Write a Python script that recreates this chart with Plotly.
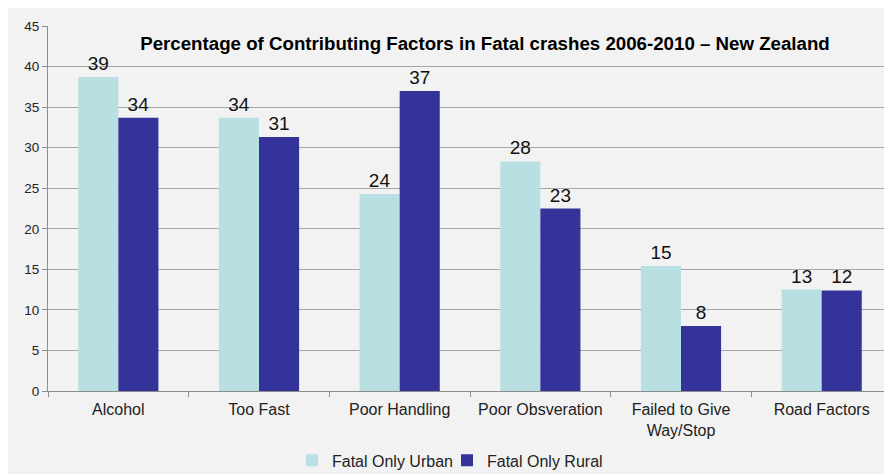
import plotly.graph_objects as go

categories = ["Alcohol", "Too Fast", "Poor Handling", "Poor Obsveration",
              "Failed to Give<br>Way/Stop", "Road Factors"]
urban_values = [38.7, 33.7, 24.3, 28.3, 15.4, 12.5]
rural_values = [33.7, 31.3, 37.0, 22.5, 8.0, 12.4]
urban_labels = ["39", "34", "24", "28", "15", "13"]
rural_labels = ["34", "31", "37", "23", "8", "12"]
y_ticks = [0, 5, 10, 15, 20, 25, 30, 35, 40, 45]

FONT = "Liberation Sans, Arial, sans-serif"

fig = go.Figure()
fig.add_trace(go.Bar(
    x=categories, y=urban_values, name="Fatal Only Urban",
    marker=dict(color="#b8e0e3", line=dict(width=0)),
    text=urban_labels, textposition="outside", cliponaxis=False,
    textfont=dict(size=19, color="#111111", family=FONT),
    legend="legend",
))
fig.add_trace(go.Bar(
    x=categories, y=rural_values, name="Fatal Only Rural",
    marker=dict(color="#333399", line=dict(width=0)),
    text=rural_labels, textposition="outside", cliponaxis=False,
    textfont=dict(size=19, color="#111111", family=FONT),
    legend="legend2",
))

W, H = 884, 466
legend_common = dict(
    orientation="h", xanchor="left", y=-0.19, yanchor="middle",
    font=dict(size=16, color="#222222", family=FONT),
    bgcolor="rgba(0,0,0,0)", itemwidth=30,
)
fig.update_layout(
    width=W, height=H,
    margin=dict(l=40, r=0, t=18, b=83, autoexpand=False),
    paper_bgcolor="#f2f2f2",
    plot_bgcolor="#f2f2f2",
    barmode="group",
    bargap=0.43,
    bargroupgap=0,
    font=dict(family=FONT, color="#222222"),
    title=dict(
        text="<b>Percentage of Contributing Factors in Fatal crashes 2006-2010 – New Zealand</b>",
        x=477 / W, xanchor="center", y=1 - 35 / H, yanchor="middle",
        xref="container", yref="container",
        font=dict(size=18.7, color="#000000", family=FONT),
    ),
    legend=dict(x=(284 - 40) / 844, **legend_common),
    legend2=dict(x=(439 - 40) / 844, **legend_common),
    showlegend=True,
)

fig.update_xaxes(
    showline=True, linecolor="#8c8c8c", linewidth=1,
    ticks="outside", tickson="boundaries", ticklen=5, tickcolor="#8c8c8c",
    tickfont=dict(size=16, color="#222222", family=FONT),
    ticklabelstandoff=4,
    showgrid=False,
)
fig.update_yaxes(
    range=[0, 45], tickvals=y_ticks,
    showline=True, linecolor="#8c8c8c", linewidth=1,
    ticks="outside", ticklen=5, tickcolor="#8c8c8c",
    tickfont=dict(size=13.5, color="#222222", family=FONT),
    showgrid=True, gridcolor="#a6a6a6", gridwidth=1,
    zeroline=False,
)

fig.write_html("out.html")
